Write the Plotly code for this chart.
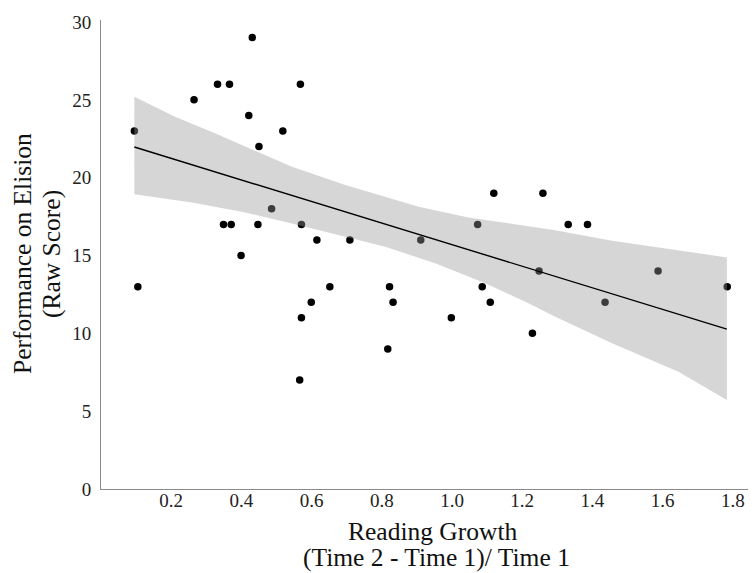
import plotly.graph_objects as go

# scatter data
reading_growth = [0.095, 0.105, 0.265, 0.332, 0.366, 0.349, 0.371, 0.399, 0.421, 0.431,
                  0.450, 0.447, 0.486, 0.518, 0.568, 0.571, 0.571, 0.566, 0.599, 0.615,
                  0.652, 0.709, 0.822, 0.817, 0.832, 0.911, 0.998, 1.073, 1.086, 1.109,
                  1.119, 1.229, 1.248, 1.259, 1.331, 1.386, 1.436, 1.587, 1.784]
elision = [23, 13, 25, 26, 26, 17, 17, 15, 24, 29,
           22, 17, 18, 23, 26, 17, 11, 7, 12, 16,
           13, 16, 13, 9, 12, 16, 11, 17, 13, 12,
           19, 10, 14, 19, 17, 17, 12, 14, 13]

# fitted line and confidence band
fit_x = [0.095, 1.783]
fit_y = [21.97, 10.27]
band_upper_x = [0.095, 0.211, 0.325, 0.449, 0.544, 0.696, 0.762, 0.905, 1.047,
                1.189, 1.294, 1.456, 1.645, 1.783]
band_upper = [25.20, 23.91, 22.85, 21.66, 20.70, 19.53, 19.09, 18.13, 17.45,
              16.96, 16.63, 15.95, 15.31, 14.88]
band_lower_x = [0.095, 0.259, 0.401, 0.544, 0.696, 0.810, 0.952, 1.095, 1.218,
                1.294, 1.456, 1.645, 1.783]
band_lower = [18.93, 18.41, 17.81, 17.06, 16.20, 15.56, 14.50, 13.21, 11.93,
              11.07, 9.36, 7.53, 5.72]

x_ticks = [0.2, 0.4, 0.6, 0.8, 1.0, 1.2, 1.4, 1.6, 1.8]
y_ticks = [0, 5, 10, 15, 20, 25, 30]

serif = "Liberation Serif, Times New Roman, serif"
W, H = 748, 565
ML, MR, MT, MB = 93, 0, 12, 84
PW, PH = W - ML - MR, H - MT - MB

fig = go.Figure()
fig.add_trace(go.Scatter(x=reading_growth, y=elision, mode="markers",
                         marker=dict(color="black", size=7.5), showlegend=False))
fig.add_trace(go.Scatter(x=band_upper_x + band_lower_x[::-1],
                         y=band_upper + band_lower[::-1],
                         fill="toself", fillcolor="rgba(153,153,153,0.4)",
                         line=dict(width=0), mode="lines", showlegend=False,
                         hoverinfo="skip"))
fig.add_trace(go.Scatter(x=fit_x, y=fit_y, mode="lines",
                         line=dict(color="black", width=1.4), showlegend=False))


def px_x(fx):
    return (fx - ML) / PW


def px_y(fy):
    return (H - MB - fy) / PH


title_font = dict(size=25.5, family=serif, color="#111111")
annotations = [
    dict(text="Reading Growth", x=px_x(425), y=px_y(523)),
    dict(text="(Time 2 - Time 1)/ Time 1", x=px_x(428), y=px_y(549)),
    dict(text="Performance on Elision", x=px_x(14), y=px_y(246), textangle=-90),
    dict(text="(Raw Score)", x=px_x(43), y=px_y(246), textangle=-90),
]
for a in annotations:
    a.update(xref="paper", yref="paper", showarrow=False, font=title_font,
             xanchor="center", yanchor="middle")

fig.update_layout(
    width=W, height=H,
    margin=dict(l=ML, r=MR, t=MT, b=MB, autoexpand=False),
    paper_bgcolor="white", plot_bgcolor="white",
    font=dict(family=serif, color="#222222"),
    annotations=annotations,
    xaxis=dict(range=[0.0, 1.866], tickvals=x_ticks,
               ticktext=[f"{v:.1f}" for v in x_ticks],
               showgrid=False, zeroline=False, showline=True,
               linecolor="#8a8a8a", linewidth=1, ticks="", ticklen=0,
               tickfont=dict(size=19, family=serif, color="#222222"),
               ticklabelstandoff=-6, automargin=False),
    yaxis=dict(range=[0, 30.13], tickvals=y_ticks,
               showgrid=False, zeroline=False, showline=True,
               linecolor="#8a8a8a", linewidth=1, ticks="", ticklen=0,
               tickfont=dict(size=19, family=serif, color="#222222"),
               ticklabelstandoff=5, automargin=False),
)
fig.write_html("out.html")
